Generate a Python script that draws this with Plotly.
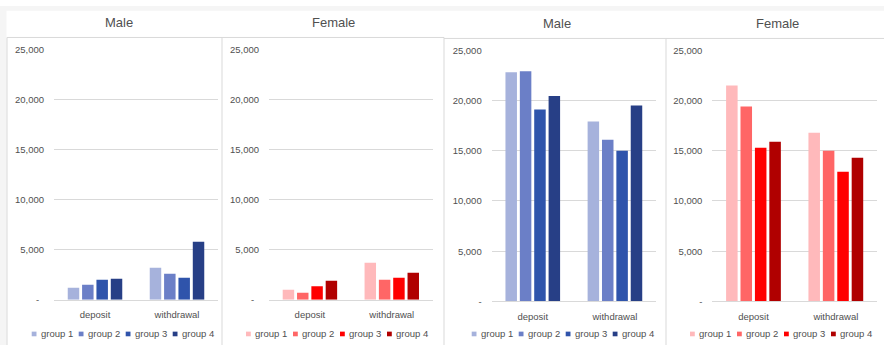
import plotly.graph_objects as go

# ---- data ----
categories = ["deposit", "withdrawal"]
groups = ["group 1", "group 2", "group 3", "group 4"]

male_small = {
    "group 1": [1200, 3200],
    "group 2": [1500, 2600],
    "group 3": [2000, 2200],
    "group 4": [2100, 5800],
}
female_small = {
    "group 1": [1000, 3700],
    "group 2": [700, 2000],
    "group 3": [1350, 2200],
    "group 4": [1900, 2700],
}
male_large = {
    "group 1": [22800, 17900],
    "group 2": [22900, 16100],
    "group 3": [19100, 15000],
    "group 4": [20450, 19500],
}
female_large = {
    "group 1": [21500, 16800],
    "group 2": [19400, 15000],
    "group 3": [15300, 12900],
    "group 4": [15900, 14300],
}

tick_vals = [0, 5000, 10000, 15000, 20000, 25000]
tick_text = ["-", "5,000", "10,000", "15,000", "20,000", "25,000"]

blues = ["#a6b2dc", "#6b7fc7", "#2f54ab", "#273f86"]
reds = ["#ffb9bb", "#ff6666", "#ff0000", "#b00000"]

# ---- page geometry (pixels) ----
W, H = 884, 350
TEXT = "#505050"
GRID = "#d9d9d9"
FONT = "Liberation Sans, Arial, sans-serif"


def px(x):
    return x / W


def py(y):
    return 1 - y / H


# each panel: title, data, colours, plot-area x px, baseline/top y px, title xy, legend start
panels = [
    dict(title="Male", data=male_small, colors=blues, x0=54, x1=218, y0=303.3, y1=44.7,
         tx=119, ty=17, lx=31.7, dash="-\u2002"),
    dict(title="Female", data=female_small, colors=reds, x0=269, x1=432.7, y0=303.3, y1=44.7,
         tx=333, ty=17, lx=246, dash="-\u2002"),
    dict(title="Male", data=male_large, colors=blues, x0=491.7, x1=656, y0=305, y1=45.7,
         tx=557, ty=18, lx=471.7, dash="-"),
    dict(title="Female", data=female_large, colors=reds, x0=712.3, x1=877, y0=305, y1=45.7,
         tx=777, ty=18, lx=690, dash="-"),
]

fig = go.Figure()
annotations = []
shapes = []

# light grey strips framing the header area
shapes.append(dict(type="rect", xref="paper", yref="paper", x0=0, x1=1, y0=py(5), y1=1,
                   fillcolor="#f5f5f5", line_width=0, layer="below"))
shapes.append(dict(type="rect", xref="paper", yref="paper", x0=0, x1=px(6.5), y0=0, y1=1,
                   fillcolor="#f5f5f5", line_width=0, layer="below"))

# panel frames
frame = dict(color=GRID, width=1)
for (xa, xb, yt) in [(7, 222, 32.5), (222, 444, 32.5), (444, 666, 33.5), (666, 884, 33.5)]:
    shapes.append(dict(type="line", xref="paper", yref="paper", x0=px(xa), x1=px(xb),
                       y0=py(yt), y1=py(yt), line=frame))
for (xv, yt) in [(7, 32.5), (222, 32.5), (444, 32.5), (666, 33.5)]:
    shapes.append(dict(type="line", xref="paper", yref="paper", x0=px(xv), x1=px(xv),
                       y0=py(yt), y1=0, line=frame))

for i, p in enumerate(panels):
    n = i + 1
    xa = "x" if n == 1 else f"x{n}"
    ya = "y" if n == 1 else f"y{n}"
    for g, c in zip(groups, p["colors"]):
        fig.add_trace(go.Bar(x=categories, y=p["data"][g], name=g, marker_color=c,
                             marker_line_width=0, xaxis=xa, yaxis=ya, showlegend=False))

    xkey = "xaxis" if n == 1 else f"xaxis{n}"
    ykey = "yaxis" if n == 1 else f"yaxis{n}"
    fig.update_layout(**{
        xkey: dict(domain=[px(p["x0"]), px(p["x1"])], anchor=ya, showgrid=False,
                   showline=True, linecolor=GRID, linewidth=1, ticks="",
                   tickfont=dict(family=FONT, size=9.5, color=TEXT), ticklabelstandoff=6,
                   fixedrange=True),
        ykey: dict(domain=[py(p["y0"]), py(p["y1"])], anchor=xa, range=[0, 25000],
                   tickvals=tick_vals,
                   ticktext=[p["dash"]] + tick_text[1:],
                   showgrid=True, gridcolor=GRID, gridwidth=1, zeroline=False,
                   showline=False, ticks="", ticklabelstandoff=9,
                   tickfont=dict(family=FONT, size=9.5, color=TEXT), fixedrange=True),
    })

    # panel title
    annotations.append(dict(text=p["title"], x=px(p["tx"]), y=py(p["ty"]), xref="paper",
                            yref="paper", showarrow=False, xanchor="center", yanchor="middle",
                            font=dict(family=FONT, size=13, color=TEXT)))

    # legend: small colour squares with labels
    for k, (g, c) in enumerate(zip(groups, p["colors"])):
        sx = p["lx"] + 47 * k
        shapes.append(dict(type="rect", xref="paper", yref="paper", x0=px(sx), x1=px(sx + 4.8),
                           y0=py(341), y1=py(336.2), fillcolor=c, line_width=0))
        annotations.append(dict(text=g, x=px(sx + 7.0), y=py(338.6), xref="paper",
                                yref="paper", showarrow=False, xanchor="left",
                                yanchor="middle",
                                font=dict(family=FONT, size=9.5, color=TEXT)))

fig.update_layout(
    width=W, height=H, margin=dict(l=0, r=0, t=0, b=0),
    paper_bgcolor="white", plot_bgcolor="white",
    barmode="group", bargap=0.3, bargroupgap=0.2,
    showlegend=False, annotations=annotations, shapes=shapes,
    font=dict(family=FONT, color=TEXT),
)

fig.write_html("out.html", config={"displayModeBar": False})
